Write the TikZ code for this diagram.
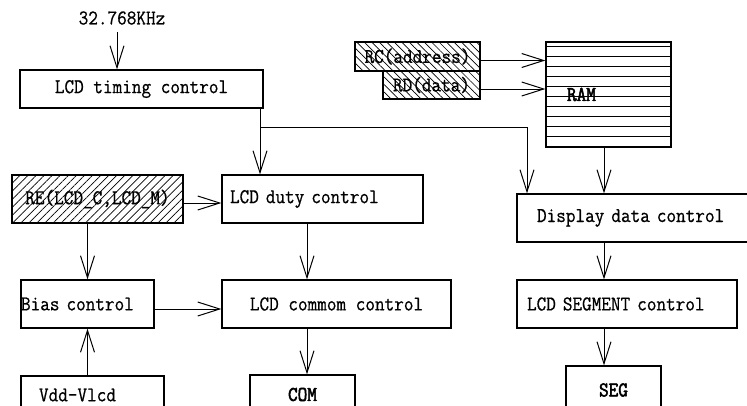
\documentclass[tikz,border=0pt]{standalone}
\usepackage{fontspec}
\setmonofont{Latin Modern Mono}[FakeStretch=0.89, FakeBold=0.7]
\newfontfamily\heavymono{Latin Modern Mono}[FakeStretch=0.89, FakeBold=2.5]
\usepackage{tikz}
\usetikzlibrary{positioning,arrows.meta,patterns.meta}

\begin{document}
\begin{tikzpicture}[x=1pt, y=-1pt,
    font=\ttfamily\fontsize{21}{23}\selectfont,
    blk/.style={draw, line width=1.3pt, inner sep=0pt, minimum height=48pt},
    lft/.style={align=left, text width=#1},
    hatchr/.style={pattern={Lines[angle=45,distance=5.7pt,line width=0.7pt]}},
    hatchl/.style={pattern={Lines[angle=-45,distance=5.3pt,line width=0.7pt]}},
    arr/.style={-{Straight Barb[length=22pt,width=14pt]}, line width=1pt}]
    \useasboundingbox (0,0) rectangle (747,405);
                % top row
                \node (clock) at (122,18) {32.768KHz};
                \node [blk, minimum width=243pt, minimum height=38pt] (timing) at (141.5,89) {LCD timing control};
                \node [blk, hatchl, minimum width=125pt, minimum height=29pt] (rc) at (417.5,56.5) {RC(address)};
                \node [blk, hatchl, minimum width=97pt, minimum height=28pt] (rd) at (431.5,85) {RD(data)};
                \node [blk, minimum height=105pt, inner xsep=21pt, lft=83pt] (ram) at (608.5,94.5) {\heavymono RAM};
                \foreach \y in {5,15,...,95}
                    \draw [line width=0.9pt] ([yshift=-\y]ram.north west) -- ([yshift=-\y]ram.north east);
                % middle rows
                \node [blk, hatchr, minimum width=171pt] (re) at (97.5,199) {RE(LCD\_C,LCD\_M)};
                \node [blk, inner xsep=8pt, lft=185pt] (duty) at (322.5,199) {LCD duty control};
                \node [blk, inner xsep=20pt, lft=193pt] (disp) at (633.5,218) {Display data control};
                \node [blk, lft=133pt] (bias) at (87.5,304) {Bias control};
                \node [blk, minimum width=229pt] (commom) at (336.5,304) {LCD commom control};
                \node [blk, inner xsep=10pt, lft=200pt] (segctrl) at (627,304) {LCD SEGMENT control};
                % bottom row
                \node [blk, minimum height=38pt, inner xsep=18pt, lft=107pt] (vdd) at (92.5,395) {Vdd-Vlcd};
                \node [blk, minimum width=105pt, minimum height=39pt] (com) at (302.5,394.5) {\heavymono COM};
                \node [blk, minimum width=95pt] (seg) at (613.5,390) {\heavymono SEG};
                % connectors
                \coordinate (clk) at (117,32);
                \coordinate (split) at (260,127);
                \coordinate (tap) at (527,127);
                \coordinate (comx) at (307,0);
                \coordinate (segx) at (604,0);
                \draw [arr] (clk) -- (clk |- timing.north);
                \draw [line width=1pt] (timing.south -| split) -- (split);
                \draw [arr] (split) -- (duty.north -| split);
                \draw [arr] (split) -- (tap) -- (disp.north -| tap);
                \draw [arr] ([yshift=-4]rc.east) -- ([yshift=-4]rc.east -| ram.west);
                \draw [arr] ([yshift=-4]rd.east) -- ([yshift=-4]rd.east -| ram.west);
                \draw [arr] (ram.south -| segx) -- (disp.north -| segx);
                \draw [arr] (disp.south -| segx) -- (segctrl.north -| segx);
                \draw [arr] (segctrl.south -| segx) -- (seg.north -| segx);
                \draw [arr] ([yshift=-4]re.east) -- ([yshift=-4]duty.west);
                \draw [arr] (re.south -| bias) -- (bias.north);
                \draw [arr] (duty.south -| comx) -- (commom.north -| comx);
                \draw [arr] (commom.south -| comx) -- (com.north -| comx);
                \draw [arr] ([yshift=-5]bias.east) -- ([yshift=-5]commom.west);
                \draw [arr] (vdd.north -| bias) -- (bias.south);
            \end{tikzpicture}
\end{document}
